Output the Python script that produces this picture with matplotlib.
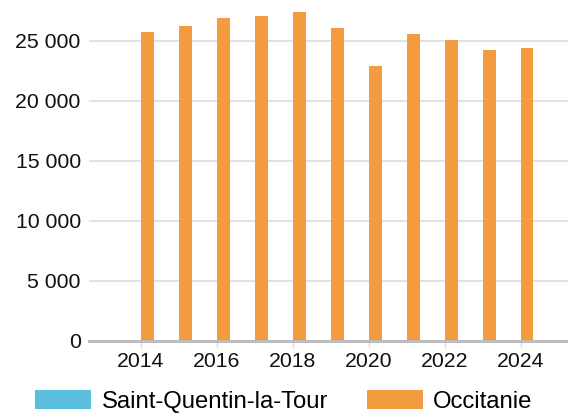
import matplotlib.pyplot as plt
import numpy as np
from matplotlib.ticker import FuncFormatter

plt.rcParams["font.family"] = ["Liberation Sans", "DejaVu Sans"]

years = np.arange(2014, 2025)
commune = [0, 0, 0, 0, 0, 0, 0, 0, 0, 0, 0]
occitanie = [25750, 26250, 26900, 27080, 27420, 26080, 22920, 25580, 25080, 24250, 24420]
series_names = ["Saint-Quentin-la-Tour", "Occitanie"]
colors = ["#5bc0de", "#f59b3f"]

fig = plt.figure(figsize=(5.68, 4.17), dpi=100)
ax = fig.add_axes([89 / 568, 1 - 341 / 417, 1 - 89 / 568, 336 / 417])

w = 0.34
ax.bar(years - w / 2, commune, width=w, color=colors[0], label=series_names[0], zorder=3)
ax.bar(years + w / 2, occitanie, width=w, color=colors[1], label=series_names[1], zorder=3)

ax.set_xlim(2012.63, 2025.25)
ax.set_ylim(0, 28000)
ax.set_xticks(np.arange(2014, 2025, 2))
ax.set_yticks(np.arange(0, 25001, 5000))
ax.yaxis.set_major_formatter(FuncFormatter(lambda v, p: f"{int(v):,}".replace(",", " ")))
ax.grid(axis="y", color="#e0e0e0", linewidth=1.3, zorder=0)
for s in ["top", "right", "left"]:
    ax.spines[s].set_visible(False)
ax.spines["bottom"].set_color("#bdbdbd")
ax.spines["bottom"].set_linewidth(2.2)
ax.spines["bottom"].set_zorder(4)
ax.tick_params(axis="y", length=0, pad=6, labelsize=15.3, labelcolor="#111111")
ax.tick_params(axis="x", length=5, width=1, color="#e0e0e0", pad=3, labelsize=15.3, labelcolor="#111111")

fig.legend(loc="center", bbox_to_anchor=(0.4995, 0.038), ncol=2, frameon=False, borderpad=0,
           fontsize=17.2, handlelength=2.35, handleheight=0.84, columnspacing=1.62, handletextpad=0.42)

fig.savefig("out.png", dpi=100)
